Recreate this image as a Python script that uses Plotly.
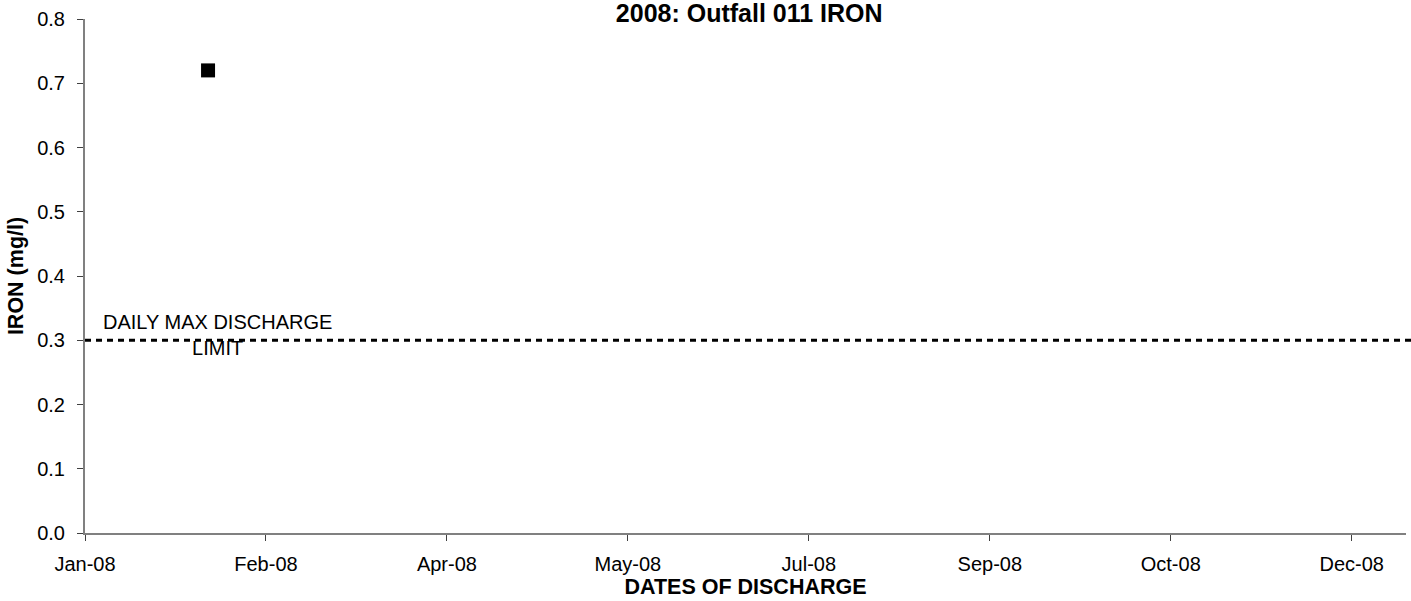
import plotly.graph_objects as go
from datetime import date, timedelta

# Data
sample_dates = ["2008-02-04"]
iron_values = [0.72]
limit_value = 0.3
limit_label = "DAILY MAX DISCHARGE<br>LIMIT"
tick_start = date(2008, 1, 1)
tick_step_days = 50
tick_count = 8
tick_dates = [tick_start + timedelta(days=tick_step_days * i) for i in range(tick_count)]
tick_labels = [d.strftime("%b-%y") for d in tick_dates]

font = "Liberation Sans, Arial, sans-serif"

fig = go.Figure()
fig.add_trace(go.Scatter(
    x=sample_dates, y=iron_values, mode="markers",
    marker=dict(symbol="square", size=14, color="black"),
    showlegend=False,
))

fig.add_shape(type="line", xref="paper", yref="y", x0=0, x1=1.004,
              y0=limit_value, y1=limit_value,
              line=dict(color="black", width=3, dash="6px,5px"))

fig.add_annotation(x=0.1, y=limit_value, xref="paper", yref="y",
                   xanchor="center", yanchor="middle",
                   text=limit_label, showarrow=False, align="center",
                   yshift=5, font=dict(family=font, size=20, color="black"))

fig.update_layout(
    width=1411, height=601,
    margin=dict(l=85, r=5, t=19, b=68, autoexpand=False),
    plot_bgcolor="white", paper_bgcolor="white",
    font=dict(family=font, size=20, color="black"),
    title=dict(text="<b>2008: Outfall 011 IRON</b>", x=0.531, xanchor="center",
               xref="container", yref="container",
               y=0.978, yanchor="middle", font=dict(family=font, size=25)),
)

fig.update_xaxes(
    type="date", range=["2008-01-01", "2008-12-31"],
    tickvals=[d.isoformat() for d in tick_dates], ticktext=tick_labels,
    showgrid=False, zeroline=False, automargin=False,
    showline=True, linecolor="#808080", linewidth=2,
    ticks="outside", ticklen=6, tickcolor="#404040", tickwidth=1,
    ticklabelstandoff=6,
    tickfont=dict(family=font, size=20),
    title=dict(text="<b>DATES OF DISCHARGE</b>", standoff=0,
               font=dict(family=font, size=21.5)),
)
fig.update_yaxes(
    range=[0, 0.8], dtick=0.1, tickformat=".1f",
    showgrid=False, zeroline=False, automargin=False,
    showline=True, linecolor="#808080", linewidth=2,
    ticks="outside", ticklen=6, tickcolor="#404040", tickwidth=1,
    ticklabelstandoff=8,
    tickfont=dict(family=font, size=20),
    title=dict(text="<b>IRON (mg/l)</b>", standoff=8,
               font=dict(family=font, size=21.5)),
)

fig.write_html("out.html", config={"displayModeBar": False},
               post_script="document.body.style.margin='0';")
